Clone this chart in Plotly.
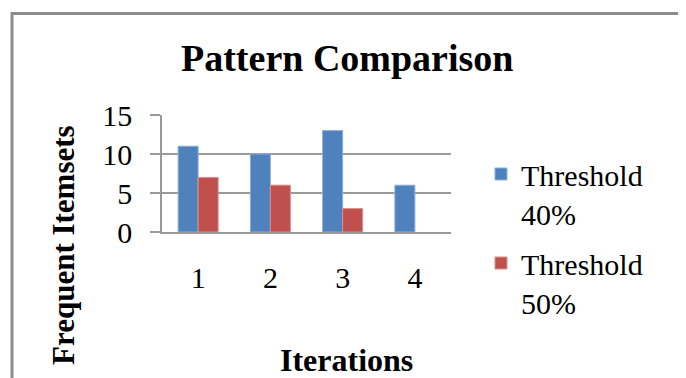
import plotly.graph_objects as go

categories = ["1", "2", "3", "4"]
threshold_40 = [11, 10, 13, 6]
threshold_50 = [7, 6, 3, None]
series_names = ["Threshold<br>40%", "Threshold<br>50%"]
y_ticks = [0, 5, 10, 15]

# page body has an 8px margin; coordinates below are in screenshot pixels
O = 8
W, H = 686 - O, 378 - O
L, R, T, B = 162, 451, 115, 232

def px(x):
    return (x - L) / (R - L)

def py(y):
    return (B - y) / (B - T)

FONT = "Liberation Serif, Times New Roman, serif"

fig = go.Figure()
fig.add_trace(go.Bar(x=categories, y=threshold_40, name=series_names[0], legendgroup="g1",
                     marker=dict(color="#4F81BD", line=dict(color="#8DB0DC", width=1))))
fig.add_trace(go.Bar(x=categories, y=threshold_50, name=series_names[1], legendgroup="g2",
                     marker=dict(color="#C0504D", line=dict(color="#DA8E8C", width=1))))

fig.update_layout(
    width=W, height=H,
    margin=dict(l=L - O, r=686 - R, t=T - O, b=378 - B, autoexpand=False),
    paper_bgcolor="white", plot_bgcolor="white",
    barmode="group", bargap=0.446, bargroupgap=0,
    font=dict(family=FONT, color="black"),
    showlegend=True,
    legend=dict(x=px(481), y=py(148), xanchor="left", yanchor="top",
                valign="top", font=dict(size=30, family=FONT),
                bgcolor="rgba(0,0,0,0)", tracegroupgap=8, itemwidth=30,
                maxheight=400),
    xaxis=dict(showgrid=False, showline=True, linecolor="#999999", linewidth=1.5,
               ticks="", tickfont=dict(size=30), ticklabelstandoff=18,
               fixedrange=True),
    yaxis=dict(range=[0, 15], tickvals=y_ticks, showgrid=True, gridcolor="#9a9a9a",
               gridwidth=1.5, showline=True, linecolor="#999999", linewidth=1.5,
               ticks="outside", ticklen=10, tickcolor="#9a9a9a", tickwidth=1.5,
               tickfont=dict(size=30), ticklabelstandoff=12, zeroline=False,
               fixedrange=True),
    shapes=[dict(type="rect", xref="paper", yref="paper",
                 x0=px(12), x1=px(680.5), y0=py(430), y1=py(13.5),
                 line=dict(color="#8c8c8c", width=3), fillcolor="rgba(0,0,0,0)")],
    annotations=[
        dict(text="<b>Pattern Comparison</b>", xref="paper", yref="paper",
             x=px(347), y=py(58), xanchor="center", yanchor="middle",
             showarrow=False, font=dict(size=38, family=FONT)),
        dict(text="<b>Frequent Itemsets</b>", xref="paper", yref="paper",
             x=px(63), y=py(245), xanchor="center", yanchor="middle",
             textangle=-90, showarrow=False, font=dict(size=31, family=FONT)),
        dict(text="<b>Iterations</b>", xref="paper", yref="paper",
             x=px(346.5), y=py(360), xanchor="center", yanchor="middle",
             showarrow=False, font=dict(size=32, family=FONT)),
    ],
)

fig.write_html("out.html")
